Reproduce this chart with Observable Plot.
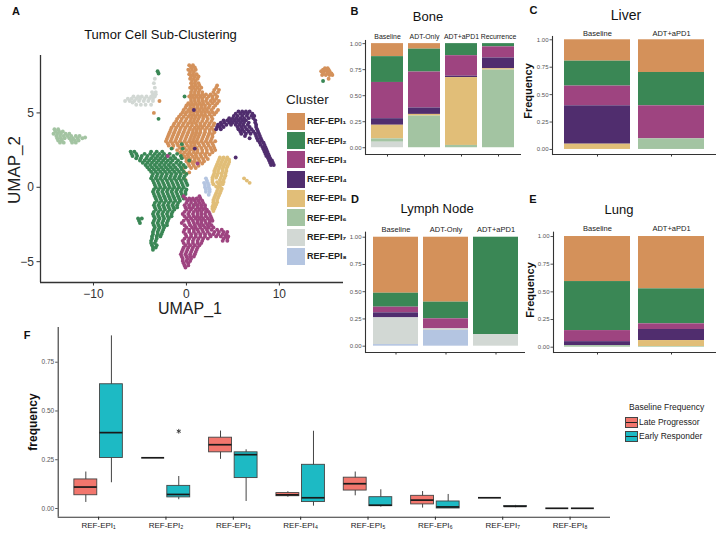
<!DOCTYPE html>
<html><head><meta charset="utf-8">
<script src="https://cdn.jsdelivr.net/npm/d3@7"></script>
<script src="https://cdn.jsdelivr.net/npm/@observablehq/plot@0.6"></script>
<style>
body{margin:0;background:#fff;}
#root{position:relative;width:720px;height:534px;overflow:hidden;font-family:'Liberation Sans',Arial,Helvetica,sans-serif;background:#fff;}
#root svg{position:absolute;}
.t{position:absolute;white-space:nowrap;line-height:1;}
</style></head>
<body><div id="root"></div>
<script>
const FONT = "'Liberation Sans',Arial,Helvetica,sans-serif";

// ---------- categories ----------
const clusters = ["REF-EPI₁","REF-EPI₂","REF-EPI₃","REF-EPI₄","REF-EPI₅","REF-EPI₆","REF-EPI₇","REF-EPI₈"];
const clusterColors = ["#d4915a","#3a8755","#9e4480","#502d6e","#e1be78","#a3c4a2","#d2d8d4","#b4c5e1"];
const groups = ["Late Progressor","Early Responder"];
const groupColors = ["#f2766d","#1dbac4"];

// ---------- UMAP points, rows of [UMAP_2, [UMAP_1 values]] ----------
const umapEPI1 = [[8.2,[0.3,0.7]],[7.9,[0.2,0.6,1.0]],[7.6,[0.3,0.7,1.1]],[7.3,[0.4,0.8,1.2]],[7.0,[0.5,0.9,1.3]],
 [6.7,[0.4,0.8,1.2,1.6,3.2]],[6.4,[0.5,0.9,1.3,1.7,2.9,3.4]],[6.1,[0.3,0.7,1.1,1.5,1.9,2.4,2.8,3.3]],
 [5.8,[0.5,0.9,1.3,1.7,2.1,2.6,3.0,3.5]],[5.5,[0.0,0.4,0.8,1.2,1.6,2.0,2.5,3.1]],[5.2,[-0.3,0.2,0.6,1.0,1.4,1.8,2.2,2.7,3.4]],
 [4.9,[-0.6,-0.1,0.4,0.8,1.2,1.6,2.0,2.5,3.0]],[4.6,[-1.0,-0.5,0.0,0.5,0.9,1.3,1.8,2.3,2.8]],
 [4.3,[-1.3,-0.8,-0.3,0.2,0.6,1.0,1.5,2.0,2.5,3.0]],[4.0,[-1.6,-1.1,-0.6,-0.1,0.4,0.9,1.3,1.7,2.2,2.7]],
 [3.7,[-1.8,-1.3,-0.8,-0.3,0.2,0.7,1.1,1.5,2.0,2.5,3.0]],[3.4,[-2.0,-1.5,-1.0,-0.5,0.0,0.5,0.9,1.3,1.8,2.3,2.8]],
 [3.1,[-2.2,-1.7,-1.2,-0.7,-0.2,0.3,0.7,1.1,1.6,2.1,2.6,3.1]],[2.8,[-1.9,-1.4,-0.9,-0.4,0.1,0.5,0.9,1.4,1.9,2.4,2.9]],
 [2.5,[-1.0,-0.5,0.0,0.4,0.8,1.2,1.7,2.2,2.7,3.1]],[2.2,[-0.4,0.1,0.5,1.0,1.5,2.0,2.5]],[1.9,[0.0,0.4,0.9,1.3,1.8,2.3]],
 [1.6,[0.2,0.7,1.2,1.7]],[1.3,[-0.3,0.5,1.0]],[1.0,[-0.2,0.3]],[0.5,[-0.1]],[5.8,[-2.9]],[5.0,[-3.5]],
 [8.05,[0.5,0.9]],[7.75,[0.4,0.8]],[7.45,[0.5,0.9,1.3]],[7.15,[0.6,1.0]],[6.85,[0.6,1.0,1.4,3.3]],
 [6.55,[0.6,1.0,1.4,3.0,3.5]],[6.25,[0.5,0.9,1.3,1.7,2.1,2.6,3.1]],[5.95,[0.5,0.9,1.3,1.7,2.2,2.8,3.2]],
 [5.65,[0.2,0.6,1.0,1.4,1.8,2.3,2.8,3.3]],[5.35,[-0.1,0.4,0.8,1.2,1.6,2.0,2.4,2.9]],
 [5.05,[-0.4,0.0,0.4,0.8,1.2,1.6,2.0,2.4,2.8,3.2]],[4.75,[-0.8,-0.3,0.2,0.6,1.0,1.4,1.8,2.2,2.7]],
 [4.45,[-1.1,-0.6,-0.1,0.4,0.8,1.2,1.7,2.2,2.7]],[4.15,[-1.4,-0.9,-0.4,0.1,0.6,1.1,1.5,1.9,2.4,2.9]],
 [3.85,[-1.7,-1.2,-0.7,-0.2,0.3,0.7,1.1,1.5,2.0,2.5,2.9]],[3.55,[-1.9,-1.4,-0.9,-0.4,0.1,0.6,1.0,1.4,1.9,2.4,2.8]],
 [3.25,[-2.1,-1.6,-1.1,-0.6,-0.1,0.4,0.8,1.2,1.7,2.2,2.7]],[2.95,[-2.0,-1.5,-1.0,-0.5,0.0,0.5,0.9,1.3,1.8,2.3,2.8]],
 [2.65,[-1.5,-0.7,-0.2,0.3,0.7,1.1,1.6,2.1,2.6,3.0]],[2.35,[-0.7,-0.2,0.3,0.8,1.2,1.7,2.2,2.8]],
 [2.05,[-0.2,0.2,0.7,1.1,1.6,2.1]],[1.75,[0.0,0.5,0.9,1.4,1.9]],[1.45,[0.3,0.8,1.3]],
 [8.0,[14.9,15.2]],[7.8,[14.5,14.8,15.1,15.4]],[7.55,[14.6,15.0,15.4,15.7]],[7.3,[15.3]],[7.9,[14.7,15.0,15.3]],[7.65,[14.7,15.2,15.6]]];
const umapEPI2 = [[2.6,[-1.6,-0.4]],[2.4,[-6.0,-5.6,-3.8,-3.2,-2.6]],[2.1,[-5.8,-5.3,-4.8,-4.2,-3.6,-3.1,-2.6,-2.1,-1.4,-0.6]],
 [1.8,[-5.0,-4.5,-4.0,-3.5,-3.0,-2.5,-2.0,-1.5,-0.9,0.3]],[1.5,[-4.4,-3.9,-3.4,-2.9,-2.4,-1.9,-1.4,-0.8,-0.3]],
 [1.2,[-4.0,-3.5,-3.0,-2.5,-2.0,-1.5,-1.0,-0.5]],[0.9,[-3.6,-3.1,-2.6,-2.1,-1.6,-1.1,-0.6,0.0]],
 [0.6,[-3.8,-3.3,-2.8,-2.3,-1.8,-1.3,-0.8,-0.3]],[0.3,[-3.5,-3.0,-2.5,-2.0,-1.5,-1.0,-0.5,0.0]],
 [0.0,[-3.3,-2.8,-2.3,-1.8,-1.3,-0.8,-0.3]],[-0.3,[-3.6,-3.1,-2.6,-2.1,-1.6,-1.1,-0.6,-0.1]],
 [-0.6,[-3.4,-2.9,-2.4,-1.9,-1.4,-0.9,-0.4]],[-0.9,[-3.2,-2.7,-2.2,-1.7,-1.2,-0.7]],
 [-1.2,[-3.5,-3.0,-2.5,-2.0,-1.5,-1.0,0.8]],[-1.5,[-3.3,-2.8,-2.3,-1.8,-1.3]],[-1.8,[-3.6,-3.1,-2.6,-2.1,-1.6]],
 [-2.1,[-5.2,-4.8,-3.4,-2.9,-2.4,-1.9]],[-2.4,[-5.0,-3.6,-3.1,-2.6,-2.1]],[-2.7,[-3.4,-2.9,-2.4]],
 [-3.0,[-3.6,-3.1,-2.6]],[-3.3,[-3.7,-3.2,-2.8]],[-3.6,[-3.8,-3.3]],[-3.9,[-3.7,-3.2]],[-4.2,[-3.6]],
 [2.25,[-5.9,-5.4,-4.5,-3.9,-3.4,-2.9,-2.4,-1.8,-1.0]],[1.95,[-5.4,-4.9,-4.3,-3.8,-3.3,-2.8,-2.3,-1.7,-1.2,-0.5]],
 [1.65,[-4.7,-4.2,-3.7,-3.2,-2.7,-2.2,-1.7,-1.1,-0.6]],[1.35,[-4.2,-3.7,-3.2,-2.7,-2.2,-1.7,-1.2,-0.6,-0.1]],
 [1.05,[-3.8,-3.3,-2.8,-2.3,-1.8,-1.3,-0.8,-0.3]],[0.75,[-3.7,-3.2,-2.7,-2.2,-1.7,-1.2,-0.7,-0.2]],
 [0.45,[-3.6,-3.1,-2.6,-2.1,-1.6,-1.1,-0.6,-0.1]],[0.15,[-3.4,-2.9,-2.4,-1.9,-1.4,-0.9,-0.4,0.1]],
 [-0.15,[-3.5,-3.0,-2.5,-2.0,-1.5,-1.0,-0.5,0.0]],[-0.45,[-3.5,-3.0,-2.5,-2.0,-1.5,-1.0,-0.5,-0.1]],
 [-0.75,[-3.3,-2.8,-2.3,-1.8,-1.3,-0.8,-0.3]],[-1.05,[-3.4,-2.9,-2.4,-1.9,-1.4,-0.9]],
 [-1.35,[-3.4,-2.9,-2.4,-1.9,-1.4,-1.0]],[-1.65,[-3.5,-3.0,-2.5,-2.0,-1.5]],[-1.95,[-3.5,-3.0,-2.5,-2.0,-1.6]],
 [-2.25,[-5.1,-3.5,-3.0,-2.5,-2.0]],[-2.55,[-3.5,-3.0,-2.5,-2.1]],[-2.85,[-3.5,-3.0,-2.5]],
 [-3.15,[-3.6,-3.1,-2.7]],[-3.45,[-3.7,-3.2]],[-3.75,[-3.8,-3.4]],[-4.05,[-3.6,-3.3]],
 [7.8,[-3.1]],[7.65,[-3.0]],[6.1,[-0.2]],[2.9,[-0.5]],[4.6,[-3.0]],[7.15,[14.7]]];
const umapEPI3 = [[-0.6,[-0.3,1.4]],[-0.9,[0.1,0.5,0.9,1.3,1.7]],[-1.2,[-0.2,0.3,0.8,1.2,1.6,2.0]],
 [-1.5,[0.0,0.5,1.0,1.4,1.8,2.2]],[-1.8,[-0.4,0.2,0.7,1.2,1.6,2.0,2.5]],[-2.1,[0.0,0.5,1.0,1.4,1.8,2.3,2.7]],
 [-2.4,[-0.5,0.3,0.8,1.2,1.6,2.1,2.5]],[-2.7,[0.0,0.6,1.0,1.5,2.0,2.4,2.9]],
 [-3.0,[-0.3,0.3,0.8,1.3,1.8,2.3,3.0,3.5,4.0,4.4]],[-3.3,[0.0,0.5,1.0,1.5,2.0,2.6,3.2,3.7,4.2,4.5]],
 [-3.6,[-0.4,0.2,0.7,1.2,1.7,3.9,4.4]],[-3.9,[-0.1,0.4,0.9,1.4]],[-4.2,[-0.4,0.1,0.6,1.1]],
 [-4.5,[-0.6,-0.1,0.4,0.9]],[-4.8,[-0.4,0.1,0.5]],[-5.1,[-0.3,0.2]],[-5.4,[-0.1]],
 [-0.75,[-0.1,0.3,0.7,1.1,1.5]],[-1.05,[0.0,0.5,1.0,1.4,1.8]],[-1.35,[-0.1,0.3,0.7,1.2,1.6,2.0]],
 [-1.65,[-0.2,0.3,0.8,1.2,1.6,2.1,2.4]],[-1.95,[-0.2,0.3,0.8,1.2,1.6,2.1,2.6]],
 [-2.25,[-0.3,0.2,0.7,1.2,1.6,2.0,2.5,2.8]],[-2.55,[-0.2,0.4,0.9,1.4,1.8,2.3,2.7]],
 [-2.85,[-0.2,0.3,0.8,1.2,1.7,2.2,2.7,3.3,3.8]],[-3.15,[-0.1,0.5,1.0,1.5,2.0,2.5,2.9,3.4,3.9,4.3]],
 [-3.45,[-0.2,0.3,0.8,1.3,1.8,2.3,4.0,4.4]],[-3.75,[-0.3,0.2,0.7,1.2,1.6]],[-4.05,[-0.3,0.2,0.7,1.2]],
 [-4.35,[-0.5,0.0,0.5,1.0]],[-4.65,[-0.5,0.0,0.4,0.8]],[-4.95,[-0.4,0.0,0.4]],[-5.25,[-0.2,0.2]],
 [1.6,[1.2]],[2.1,[-2.0]]];
const umapEPI4 = [[5.1,[5.6,6.0,6.4,6.8]],[4.8,[5.1,5.5,6.0,6.5,7.0,7.3]],[4.5,[4.0,4.4,4.8,5.2,5.6,6.0,6.4,7.4]],
 [4.2,[3.4,3.8,4.3,4.8,5.3,5.7,6.1,6.6,7.5]],[3.9,[3.2,3.7,5.6,6.0,6.5,7.0,7.6]],[3.6,[5.9,6.4,6.9,7.4,7.8]],
 [3.3,[6.8,7.6,8.0]],[3.0,[7.9,8.3]],[2.7,[8.2,8.5]],[2.4,[8.4,8.7]],[2.1,[8.6,8.9]],[1.8,[8.9,9.2]],[1.5,[9.1,9.4]],
 [4.95,[5.3,5.8,6.2,6.6,7.1]],[4.65,[4.6,5.0,5.4,5.8,6.2,6.7,7.2]],[4.35,[3.7,4.1,4.6,5.0,5.4,5.8,6.2,6.7,7.4]],
 [4.05,[3.3,3.6,4.0,5.5,5.9,6.3,6.8,7.5]],[3.75,[5.8,6.2,6.7,7.2,7.7]],[3.45,[6.3,7.5,7.9]],[3.15,[7.7,8.1]],
 [2.85,[8.0,8.4]],[2.55,[8.3,8.6]],[2.25,[8.5,8.8]],[1.95,[8.8,9.0]],[1.65,[9.0,9.3]],
 [5.2,[0.8]],[2.0,[5.3]],[2.6,[0.9]]];
const umapEPI5 = [[2.0,[3.6,4.0,4.4]],[1.7,[3.4,3.8,4.2,4.6]],[1.4,[3.2,3.6,4.0,4.4]],[1.1,[3.0,3.4,3.9,4.3]],
 [0.8,[2.9,3.3,3.8,4.2]],[0.5,[2.8,3.6,4.0]],[0.2,[2.9,3.5,3.9]],[-0.1,[3.4,3.8]],[-0.4,[3.2,3.6]],
 [-0.7,[3.0,3.4]],[-1.0,[2.9,3.3]],[-1.3,[2.8,3.1]],[-1.6,[2.9]],
 [1.85,[3.5,3.9,4.3,4.6]],[1.55,[3.3,3.7,4.1,4.5]],[1.25,[3.1,3.5,3.9,4.3]],[0.95,[3.0,3.4,3.8,4.2]],
 [0.65,[2.8,3.2,3.7,4.1]],[0.35,[2.8,3.3,3.7,4.0]],[0.05,[3.2,3.6]],[-0.25,[3.3,3.7]],[-0.55,[3.1,3.5]],
 [-0.85,[2.9,3.3]],[-1.15,[2.9,3.2]],[-1.45,[2.8,3.0]],
 [0.6,[6.2]],[0.45,[6.5]],[0.3,[6.8]]];
const umapEPI6 = [[3.9,[-14.2,-13.8]],[3.6,[-14.3,-13.9,-13.5,-13.0,-12.6]],
 [3.3,[-13.9,-13.5,-13.1,-12.6,-12.2,-11.7,-11.2]],[3.0,[-13.6,-13.2,-12.3,-11.9]],[3.35,[-10.9]],
 [3.75,[-14.1,-13.7,-13.3]],[3.45,[-14.0,-13.6,-13.2,-12.8,-12.4,-11.9,-11.5]],[3.15,[-13.8,-13.4,-12.4,-12.0,-11.6]]];
const umapEPI7 = [[7.3,[-3.4]],[7.0,[-3.5]],[6.7,[-3.4]],[6.4,[-3.7,-3.3]],[6.1,[-5.7,-5.2,-4.8,-4.3,-3.8,-3.4]],
 [5.8,[-6.6,-6.1,-5.6,-5.1,-4.6,-4.1,-3.6]],[5.55,[-5.4,-4.9,-4.4,-3.8]],
 [5.95,[-6.3,-5.9,-5.4,-5.0,-4.5,-4.0,-3.6]],[6.25,[-3.6,-3.3]],[5.7,[-5.8]]];
const umapEPI8 = [[0.6,[2.1]],[0.3,[1.9,2.3]],[0.0,[2.0,2.4]],[-0.3,[2.1,2.5]],[-0.5,[2.4]],
 [0.45,[2.2]],[0.15,[2.0,2.4]],[-0.15,[2.1,2.5]]];
const umapXTicks = [-10, 0, 10];
const umapYTicks = [-5, 0, 5];

// ---------- stacked frequencies (EPI1..EPI8 per sample) ----------
const boneSamples = ["Baseline","ADT-Only","ADT+aPD1","Recurrence"];
const boneFreq = [[0.125,0.248,0.348,0.063,0.131,0.032,0.053,0],
                  [0.053,0.220,0.345,0.062,0.016,0.304,0,0],
                  [0,0.116,0.197,0.013,0.652,0.022,0,0],
                  [0,0.031,0.107,0.103,0.013,0.746,0,0]];
const liverSamples = ["Baseline","ADT+aPD1"];
const liverFreq = [[0.195,0.227,0.180,0.350,0.048,0,0,0],
                   [0.298,0.304,0.301,0,0,0.097,0,0]];
const lymphSamples = ["Baseline","ADT-Only","ADT+aPD1"];
const lymphFreq = [[0.514,0.128,0.052,0.046,0,0,0.245,0.015],
                   [0.596,0.153,0.092,0,0,0,0.015,0.144],
                   [0,0.893,0,0,0,0,0.107,0]];
const lungSamples = ["Baseline","ADT+aPD1"];
const lungFreq = [[0.407,0.443,0.100,0.036,0,0.014,0,0],
                  [0.473,0.316,0.051,0.100,0.054,0.006,0,0]];
const freqTicks = [0, 0.25, 0.5, 0.75, 1];

// ---------- box plot summaries [lower, q1, median, q3, upper] ----------
const lateStats = [[0.031,0.068,0.110,0.149,0.187],[0.26,0.26,0.26,0.26,0.26],[0.252,0.288,0.327,0.363,0.397],
  [0.058,0.063,0.070,0.079,0.086],[0.065,0.092,0.127,0.158,0.187],[0.002,0.021,0.043,0.065,0.087],
  [0.055,0.055,0.055,0.055,0.055],[0.001,0.001,0.001,0.001,0.001]];
const earlyStats = [[0.132,0.259,0.389,0.637,0.885],[0.045,0.057,0.072,0.116,0.164],[0.036,0.156,0.276,0.288,0.301],
  [0.012,0.033,0.055,0.224,0.396],[0.007,0.012,0.017,0.058,0.096],[0.0,0.0,0.008,0.036,0.072],
  [0.004,0.009,0.011,0.012,0.016],[0.001,0.001,0.001,0.001,0.001]];
const earlyOutliers = [[2, 0.396]];
const boxTicks = [0, 0.25, 0.5, 0.75];

// ---------- build ----------
const root = document.getElementById("root");
function place(svg, left, top) { svg.style.left = left + "px"; svg.style.top = top + "px"; root.appendChild(svg); }
function text(txt, x, y, o = {}) {
  const el = document.createElement("div");
  el.className = "t";
  el.textContent = txt;
  el.style.left = x + "px"; el.style.top = y + "px";
  el.style.fontSize = (o.size || 12) + "px";
  el.style.fontWeight = o.weight || 400;
  el.style.color = o.color || "#111";
  const tx = o.anchor === "start" ? "0" : o.anchor === "end" ? "-100%" : "-50%";
  el.style.transform = `translate(${tx},-50%)` + (o.rotate ? ` rotate(${o.rotate}deg)` : "");
  root.appendChild(el);
  return el;
}
const colorScale = {domain: clusters, range: clusterColors};

// Panel A: UMAP
const umapSets = [umapEPI7, umapEPI6, umapEPI1, umapEPI2, umapEPI3, umapEPI4, umapEPI5, umapEPI8];
const umapNames = [clusters[6], clusters[5], clusters[0], clusters[1], clusters[2], clusters[3], clusters[4], clusters[7]];
const umapPoints = umapSets.flatMap((rows, i) => rows.flatMap(([y, xs]) => xs.map(x => ({x, y, cluster: umapNames[i]}))));
const uxDom = [-15.7, 16.9], uyDom = [-6.4, 8.86];
place(Plot.plot({
  width: 350, height: 320, marginLeft: 40, marginRight: 7, marginTop: 55, marginBottom: 38,
  x: {domain: uxDom}, y: {domain: uyDom}, color: colorScale,
  style: {fontFamily: FONT, background: "transparent"},
  marks: [
    Plot.dot(umapPoints, {x: "x", y: "y", fill: "cluster", r: 1.95}),
    Plot.axisX({ticks: umapXTicks, tickSize: 3.5, tickPadding: 3, fontSize: 12, color: "#333", label: null}),
    Plot.axisY({ticks: umapYTicks, tickSize: 3.5, tickPadding: 3, fontSize: 12, color: "#333", label: null}),
    Plot.ruleY([uyDom[0]], {stroke: "#333", strokeWidth: 1.3}),
    Plot.ruleX([uxDom[0]], {stroke: "#333", strokeWidth: 1.3})
  ]
}), 0, 0);

// Stacked bars
const stackOrder = clusters.slice().reverse();
function stackPlot(samples, freqs, c) {
  const data = samples.flatMap((s, i) => clusters.map((k, j) => ({sample: s, cluster: k, freq: freqs[i][j]})));
  return Plot.plot({
    width: c.w, height: c.h, marginLeft: c.ml, marginRight: c.mr, marginTop: c.mt, marginBottom: c.mb,
    x: {domain: samples, paddingInner: c.pi, paddingOuter: c.po, axis: null},
    y: {domain: c.yd, axis: null},
    color: colorScale,
    style: {fontFamily: FONT, background: "transparent", overflow: "visible"},
    marks: [
      Plot.barY(data, Plot.stackY({x: "sample", y: "freq", fill: "cluster", order: stackOrder})),
      Plot.axisX({anchor: "top", tickSize: 0, tickPadding: c.lp, fontSize: c.fs, color: "#1a1a1a", label: null}),
      Plot.axisX({anchor: "bottom", tickSize: 2.5, tickFormat: () => "", color: "#333", label: null}),
      Plot.axisY({ticks: freqTicks, tickFormat: d3.format(".2f"), tickSize: 2.5, tickPadding: 1.5, fontSize: 6, color: "#555", label: null}),
      Plot.ruleY([c.yd[0]], {stroke: "#333", strokeWidth: 1.1}),
      Plot.frame({anchor: "left", stroke: "#333", strokeWidth: 1.1})
    ]
  });
}
place(stackPlot(boneSamples, boneFreq, {w: 172, h: 160, ml: 9, mr: 7, mt: 40, mb: 6, pi: 0.125, po: 0.133, yd: [-0.065, 1.03], lp: 1.5, fs: 6.9}), 356, 0);
place(stackPlot(liverSamples, liverFreq, {w: 200, h: 160, ml: 32, mr: 4, mt: 36, mb: 6, pi: 0.108, po: 0.162, yd: [-0.046, 1.03], lp: 1, fs: 7.5}), 520, 0);
place(stackPlot(lymphSamples, lymphFreq, {w: 170, h: 170, ml: 8, mr: 2, mt: 41.7, mb: 8, pi: 0.109, po: 0.139, yd: [-0.058, 1.046], lp: 0, fs: 7.5}), 357, 190);
place(stackPlot(lungSamples, lungFreq, {w: 200, h: 170, ml: 33, mr: 4, mt: 41.7, mb: 8, pi: 0.108, po: 0.149, yd: [-0.048, 1.039], lp: 1.5, fs: 7.5}), 520, 190);

// Panel F: box plots
const OFF = 0.19, HW = 0.17;
const boxRows = [
  ...lateStats.map((s, i) => ({pos: i + 1 - OFF, group: groups[0], lo: s[0], q1: s[1], med: s[2], q3: s[3], hi: s[4]})),
  ...earlyStats.map((s, i) => ({pos: i + 1 + OFF, group: groups[1], lo: s[0], q1: s[1], med: s[2], q3: s[3], hi: s[4]}))
];
const outRows = earlyOutliers.map(([k, v]) => ({pos: k + OFF, v}));
const fxDom = [0.4, 8.6], fyDom = [-0.0446, 0.928];
place(Plot.plot({
  width: 620, height: 234, marginLeft: 57.7, marginRight: 10, marginTop: 27, marginBottom: 17.3,
  x: {domain: fxDom}, y: {domain: fyDom},
  color: {domain: groups, range: groupColors},
  style: {fontFamily: FONT, background: "transparent"},
  marks: [
    Plot.ruleX(boxRows, {x: "pos", y1: "lo", y2: "hi", stroke: "#444", strokeWidth: 1}),
    Plot.rect(boxRows, {x1: d => d.pos - HW, x2: d => d.pos + HW, y1: "q1", y2: "q3", fill: "group", stroke: "#444", strokeWidth: 0.9}),
    Plot.ruleY(boxRows, {x1: d => d.pos - HW, x2: d => d.pos + HW, y: "med", stroke: "#1a1a1a", strokeWidth: 1.7}),
    Plot.dot(outRows, {x: "pos", y: "v", symbol: "asterisk", r: 2.2, stroke: "#333", strokeWidth: 0.9}),
    Plot.axisX({ticks: [1,2,3,4,5,6,7,8], tickFormat: i => clusters[i - 1], tickSize: 3, tickPadding: 2, fontSize: 8, color: "#1a1a1a", label: null}),
    Plot.axisY({ticks: boxTicks, tickFormat: d3.format(".2f"), tickSize: 2.5, tickPadding: 1.5, fontSize: 6.5, color: "#555", label: null}),
    Plot.ruleY([fyDom[0]], {stroke: "#333", strokeWidth: 1.1}),
    Plot.ruleX([fxDom[0]], {stroke: "#333", strokeWidth: 1.1})
  ]
}), 0, 300);

// ---------- texts ----------
text("A", 16, 11, {size: 11, weight: 700});
text("Tumor Cell Sub-Clustering", 160.5, 34, {size: 13});
text("UMAP_2", 14, 170, {size: 17, rotate: -90, color: "#222"});
text("UMAP_1", 190, 309, {size: 16, color: "#222"});
text("Cluster", 286, 100, {size: 13.5, anchor: "start", color: "#222"});
clusters.forEach((c, i) => {
  const sw = document.createElement("div");
  sw.style.cssText = `position:absolute;left:287px;top:${112.7 + i * 19.3}px;width:18px;height:17px;background:${clusterColors[i]};`;
  root.appendChild(sw);
  text(c, 307, 121.2 + i * 19.3, {size: 9, weight: 700, anchor: "start", color: "#222"});
});

text("B", 354.5, 10.5, {size: 11, weight: 700});
text("Bone", 428, 16, {size: 13});
text("C", 533.5, 10, {size: 11, weight: 700});
text("Liver", 626, 15, {size: 14});
text("Frequency", 527.5, 91, {size: 11, weight: 700, rotate: -90});
text("D", 355, 199, {size: 11, weight: 700});
text("Lymph Node", 437, 208, {size: 13});
text("E", 533, 199, {size: 11, weight: 700});
text("Lung", 619, 209, {size: 13});
text("Frequency", 529.5, 290, {size: 11, weight: 700, rotate: -90});

text("F", 27, 335, {size: 11, weight: 700});
text("frequency", 32.5, 421.7, {size: 12, weight: 700, rotate: -90});
text("Baseline Frequency", 629, 406.7, {size: 8.5, anchor: "start", color: "#222"});
groups.forEach((g, i) => {
  const y = 421.7 + i * 14.3;
  const sw = document.createElement("div");
  sw.style.cssText = `position:absolute;left:625px;top:${y - 5}px;width:11px;height:9px;background:${groupColors[i]};border:0.8px solid #444;`;
  const mid = document.createElement("div");
  mid.style.cssText = `position:absolute;left:0;right:0;top:4px;height:1.2px;background:#222;`;
  sw.appendChild(mid);
  root.appendChild(sw);
  text(g, 639, y, {size: 8.5, anchor: "start", color: "#222"});
});
</script></body></html>
